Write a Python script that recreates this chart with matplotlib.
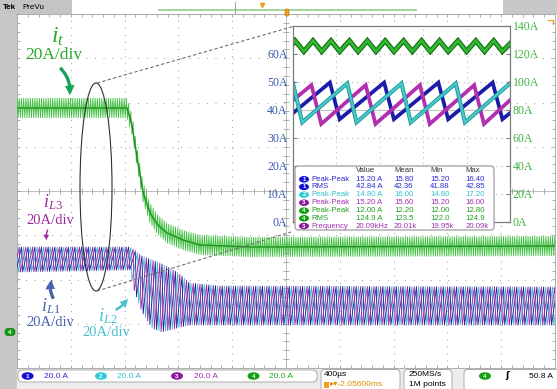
import numpy as np
import matplotlib
matplotlib.use("Agg")
import matplotlib.pyplot as plt
from matplotlib.patches import Ellipse, FancyBboxPatch, FancyArrowPatch, Rectangle

plt.rcParams["mathtext.fontset"] = "custom"
plt.rcParams["mathtext.it"] = "Liberation Serif:italic"
plt.rcParams["mathtext.rm"] = "Liberation Serif"

W, H = 557, 389
SERIF = "Liberation Serif"
SANS = ["Liberation Sans", "DejaVu Sans"]

# ---- main screen, in divisions (x 0..10, y -4..4) ----
f_sw = 20.09      # kHz (measurement table)
t_div = 400.0     # us/div
# total current iT (ch4) centre line
it_x = [0, 2.045, 2.138, 2.23, 2.342, 2.472, 2.62, 2.788, 3.086, 3.40, 4.33, 10.0]
it_y = [1.876, 1.876, 1.49, 0.768, -0.023, -0.497, -0.768, -0.949, -1.107, -1.220, -1.266, -1.243]
it_half = 0.22
# phase currents iL1..iL3: ripple peaks / valleys envelope
ph_x = [0, 2.100, 2.175, 2.323, 2.509, 2.695, 2.974, 3.216, 3.773, 10.0]
ph_hi = [-1.266, -1.266, -1.333, -1.469, -1.559, -1.650, -1.831, -2.079, -2.147, -2.169]
ph_lo = [-1.831, -1.785, -2.237, -2.734, -3.096, -3.186, -3.096, -3.028, -3.028, -3.028]
ph_fall = 0.18    # fraction of period the current falls

# ---- zoom window (us, A) ----
cyan_t = [0, 8.5, 50, 58.5, 100, 108.5, 150, 158.5, 200]
cyan_a = [49.5, 35.6, 49.5, 35.6, 49.5, 35.6, 49.5, 35.6, 49.5]
mag_t = [0, 17, 26, 67, 76, 117, 126, 167, 176, 200]
mag_a = [43.5, 48.9, 35.0, 48.9, 35.0, 48.9, 35.0, 48.9, 35.0, 43.5]
blue_t = [0, 34, 43, 84, 93, 134, 143, 184, 193, 200]
blue_a = [38.9, 49.8, 36.7, 49.8, 36.7, 49.8, 36.7, 49.8, 36.7, 38.9]
tot_t = [0, 2, 10, 18.5, 26.5, 35, 43, 52, 60, 68.5, 76.5, 85, 93, 102, 110,
         118.5, 126.5, 135, 143, 152, 160, 168.5, 176.5, 185, 193, 200]
tot_a = [127.5, 129.5, 121.8, 129.5, 121.8, 129.5, 121.8, 129.5, 121.8, 129.5, 121.8,
         129.5, 121.8, 129.5, 121.8, 129.5, 121.8, 129.5, 121.8, 129.5, 121.8,
         129.5, 121.8, 129.5, 121.8, 127.4]
left_ticks = [0, 10, 20, 30, 40, 50, 60]
right_ticks = [0, 20, 40, 60, 80, 100, 120, 140]

# measurement table
tbl_head = ["Value", "Mean", "Min", "Max"]
tbl_ch = ["1", "1", "2", "3", "4", "4", "3"]
tbl_name = ["Peak-Peak", "RMS", "Peak-Peak", "Peak-Peak", "Peak-Peak", "RMS", "Frequency"]
tbl_value = ["15.20 A", "42.84 A", "14.80 A", "15.20 A", "12.00 A", "124.9 A", "20.09kHz"]
tbl_mean = ["15.80", "42.36", "16.00", "15.60", "12.20", "123.5", "20.01k"]
tbl_min = ["15.20", "41.88", "14.80", "15.20", "12.00", "122.0", "19.95k"]
tbl_max = ["16.40", "42.85", "17.20", "16.00", "12.80", "124.9", "20.09k"]

ch_text = {"1": "#2a2ad0", "2": "#30c0d0", "3": "#a030b0", "4": "#20a020"}
ch_badge = {"1": "#1010d8", "2": "#30ccd8", "3": "#8c1c9c", "4": "#10a010"}
c_blue, c_cyan, c_mag = "#1c1ca8", "#38b8c8", "#a020a0"

fig = plt.figure(figsize=(W / 100, H / 100), dpi=100)

# ---------------- main screen ----------------
ax = fig.add_axes([17 / W, 1 - 368 / H, 538 / W, 354 / H], zorder=1)
ax.set_xlim(0, 10)
ax.set_ylim(-4, 4)
ax.set_xticks([])
ax.set_yticks([])
for s in ax.spines.values():
    s.set_color("#a0a0a0")
    s.set_linewidth(0.6)
for gx in range(1, 10):
    if gx != 5:
        ax.plot([gx, gx], [-4, 4], ls=(0, (0.8, 5.57)), color="#9a9a9a", lw=0.8, zorder=1)
for gy in range(-3, 4):
    if gy != 0:
        ax.plot([0, 10], [gy, gy], ls=(0, (0.8, 6.95)), color="#9a9a9a", lw=0.8, zorder=1)
ax.axhline(0, color="#b4b4b4", lw=0.6, zorder=1)
ax.axvline(5, color="#b4b4b4", lw=0.6, zorder=1)
mx = np.arange(0, 10.01, 0.2)
my = np.arange(-4, 4.01, 0.2)
tk = dict(color="#a0a0a0", lw=0.6, zorder=1)
ax.vlines(mx, -0.07, 0.07, **tk)
ax.hlines(my, 4.94, 5.06, **tk)
ax.vlines(mx, 3.93, 4, **tk)
ax.vlines(mx, -4, -3.93, **tk)
ax.hlines(my, 0, 0.06, **tk)
ax.hlines(my, 9.94, 10, **tk)

cyc = f_sw * t_div / 1000.0  # switching periods per division


def phase_wave(shift):
    k = np.arange(-1, int(10 * cyc) + 2)
    tp = (k + shift) / cyc
    tv = tp + ph_fall / cyc
    x = np.ravel(np.column_stack([tp, tv]))
    y = np.ravel(np.column_stack([np.interp(tp, ph_x, ph_hi), np.interp(tv, ph_x, ph_lo)]))
    return x, y


for shift, col in [(0.0, c_cyan), (2 / 3, c_blue), (1 / 3, c_mag)]:
    px, py = phase_wave(shift)
    ax.plot(px, py, color=col, lw=0.6, zorder=3)

half = 1 / (3 * cyc) / 2
k = np.arange(0, int(10 / half) + 2)
gx = k * half
gy = np.interp(gx, it_x, it_y) + np.where(k % 2 == 0, it_half, -it_half)
ax.plot(gx, gy, color="#40c040", lw=0.6, zorder=4)
ax.plot(it_x, it_y, color="#1f901f", lw=1.0, zorder=5)

# ---------------- zoom window ----------------
ins = fig.add_axes([293 / W, 1 - 222 / H, 217 / W, 196 / H], zorder=3)
ins.set_xlim(0, 200)
ins.set_ylim(0, 70)
ins.set_facecolor("white")
ins.set_xticks([])
for vx in [40, 80, 120, 160]:
    ins.plot([vx, vx], [0, 70], ls=(0, (0.8, 4.0)), color="#a8a8a8", lw=0.8)
for hy in [10, 20, 30, 50, 60]:
    ins.plot([0, 200], [hy, hy], ls=(0, (0.8, 4.0)), color="#a8a8a8", lw=0.8)
ins.axhline(40, color="#c0c0c0", lw=0.8)
ins.plot(blue_t, blue_a, color=c_blue, lw=2.7, solid_joinstyle="miter")
ins.plot(mag_t, mag_a, color="#b030b0", lw=2.7, solid_joinstyle="miter")
ins.plot(cyan_t, cyan_a, color="#1a9a9a", lw=2.9, solid_joinstyle="miter")
ins.plot(cyan_t, cyan_a, color="#48c8c8", lw=1.6, solid_joinstyle="miter")
ins.set_yticks(left_ticks)
ins.set_yticklabels([f"{v}A" for v in left_ticks], family=SERIF)
ins.tick_params(axis="y", direction="in", length=3, color="#808080",
                labelsize=8.5, labelcolor="#3a58b0", pad=4)

ins2 = ins.twinx()
ins2.set_zorder(4)
ins2.patch.set_visible(False)
ins2.set_ylim(0, 140)
ins2.plot(tot_t, tot_a, color="#0e6e0e", lw=3.6, solid_joinstyle="miter")
ins2.plot(tot_t, tot_a, color="#34b834", lw=2.0, solid_joinstyle="miter")
ins2.set_yticks(right_ticks)
ins2.set_yticklabels([f"{v}A" for v in right_ticks], family=SERIF)
ins2.tick_params(axis="y", direction="in", length=3, color="#808080",
                 labelsize=8.5, labelcolor="#3cb43c", pad=2)
for a in (ins, ins2):
    for s in a.spines.values():
        s.set_color("#7a7a7a")
        s.set_linewidth(0.8)

# ---------------- overlay (pixel coordinates) ----------------
ov = fig.add_axes([0, 0, 1, 1], zorder=10)
ov.set_xlim(0, W)
ov.set_ylim(H, 0)
ov.axis("off")

# frame pieces of the scope display
ov.add_patch(Rectangle((0, 0), 16.5, H, color="#c8c8c8", lw=0))
ov.add_patch(Rectangle((0, 0), 72, 13.5, color="#c4c4c4", lw=0))
ov.add_patch(Rectangle((503, 0), 54, 13.5, color="#c8c8c8", lw=0))
ov.add_patch(Rectangle((16.5, 368.5), W - 16.5, 20.5, color="#ececec", lw=0))
ov.text(3, 7.5, "Tek", fontsize=5.8, family=SANS, weight="bold", va="center")
ov.text(22, 7.5, "PreVu", fontsize=5.8, family=SANS, va="center")
ov.add_patch(Rectangle((158, 8.5), 259, 2.5, color="#a8d8a0", lw=0))
ov.plot([235, 235], [2, 13], color="#909090", lw=0.6)
ov.plot([262], [4.5], marker="v", ms=3, color="#f0a020")
ov.add_patch(FancyBboxPatch((285, 9), 4, 7, boxstyle="round,pad=0,rounding_size=1.2",
                            fc="#f0a020", ec="#b07010", lw=0.4))
ov.plot([548, 553, 553], [20, 20, 24], color="#f0a020", lw=0.9)
ov.add_patch(FancyBboxPatch((5, 328.5), 10, 7, boxstyle="round,pad=0,rounding_size=3",
                            fc="#10a010", ec="#0a600a", lw=0.4))
ov.text(10, 332, "4", fontsize=4.5, color="white", weight="bold", family=SANS,
        ha="center", va="center")

# bottom status bar
for (x0, y0, x1, y1) in [(18, 370, 317, 382), (321, 369.5, 400, 392), (404, 369.5, 452, 392),
                         (464, 369.5, 560, 392)]:
    ov.add_patch(FancyBboxPatch((x0, y0), x1 - x0, y1 - y0, boxstyle="round,pad=0,rounding_size=4",
                                fc="white", ec="#a0a0a0", lw=0.6))
for bx, tx, ch in [(27.6, 44, "1"), (101, 117, "2"), (177, 194, "3"), (253.5, 269, "4")]:
    ov.add_patch(Ellipse((bx, 376), 12, 7.5, fc=ch_badge[ch], ec="none"))
    ov.text(bx, 376, ch, fontsize=4.5, color="white", weight="bold", family=SANS,
            ha="center", va="center")
    ov.text(tx, 376, "20.0 A", fontsize=6, color=ch_text[ch], family=SANS, va="center")
ov.text(324, 374, "400µs", fontsize=6, family=SANS, va="center")
ov.add_patch(Rectangle((323.5, 381.5), 5, 6, fc="#f0a020", ec="none"))
ov.text(330, 385, "▸▾-2.05600ms", fontsize=6, family=SANS, color="#e08a00", va="center")
ov.text(409, 374, "250MS/s", fontsize=6, family=SANS, va="center")
ov.text(409, 385, "1M points", fontsize=6, family=SANS, va="center")
ov.add_patch(Ellipse((485, 376), 12, 7.5, fc=ch_badge["4"], ec="none"))
ov.text(485, 376, "4", fontsize=4.5, color="white", weight="bold", family=SANS,
        ha="center", va="center")
ov.text(505, 376, "ʃ", fontsize=6.5, family="DejaVu Sans", weight="bold", va="center")
ov.text(529, 376, "50.8 A", fontsize=6, family=SANS, va="center")

# measurement table
ov.add_patch(FancyBboxPatch((295, 166), 199, 64, boxstyle="round,pad=0,rounding_size=3",
                            fc="white", ec="#909090", lw=0.8))
cols = [355.5, 394, 430, 465.5]
for cx, head in zip(cols, tbl_head):
    ov.text(cx, 170.5, head, fontsize=5.6, family=SANS, color="#303030", va="center")
row_y = [179.3, 186.9, 194.7, 202.7, 210.7, 218.3, 226]
for i, ry in enumerate(row_y):
    ch = tbl_ch[i]
    ov.add_patch(Ellipse((304, ry), 10, 6.5, fc=ch_badge[ch], ec="none"))
    ov.text(304, ry, ch, fontsize=4.2, color="white", weight="bold", family=SANS,
            ha="center", va="center")
    ov.text(311, ry, tbl_name[i], fontsize=5.6, color=ch_text[ch], family=SANS, va="center")
    for cx, val in zip(cols, [tbl_value[i], tbl_mean[i], tbl_min[i], tbl_max[i]]):
        ov.text(cx, ry, val, fontsize=5.6, color=ch_text[ch], family=SANS, va="center")

# zoom marker: ellipse and dashed leaders
ov.add_patch(Ellipse((96, 187), 32, 208, fill=False, ec="#303030", lw=0.8))
ov.plot([97, 293], [83, 26.5], ls=(0, (3, 2)), color="#707070", lw=0.8)
ov.plot([97, 291], [291, 232], ls=(0, (3, 2)), color="#707070", lw=0.8)

# channel annotations
green, mag, blue, cyan = "#28a828", "#9b2a9b", "#4a62b0", "#48c0d0"
ov.text(58, 36, r"$i_t$", fontsize=17, color=green, ha="center", va="center")
ov.text(54, 55, "20A/div", fontsize=12.5, family=SERIF, color=green, ha="center", va="center")
ov.text(53, 202, r"$i_{L3}$", fontsize=13, color=mag, ha="center", va="center")
ov.text(50, 220, "20A/div", fontsize=10.5, family=SERIF, color=mag, ha="center", va="center")
ov.text(51, 306, r"$i_{L1}$", fontsize=13, color=blue, ha="center", va="center")
ov.text(50, 322.5, "20A/div", fontsize=10.5, family=SERIF, color=blue, ha="center", va="center")
ov.text(108, 316, r"$i_{L2}$", fontsize=13, color=cyan, ha="center", va="center")
ov.text(106, 333, "20A/div", fontsize=10.5, family=SERIF, color=cyan, ha="center", va="center")

arrows = [((58, 66), (69, 98), "#1aa05a", -0.3, 7, 7, 2.4),
          ((49, 227), (47, 243), mag, 0.2, 4, 4, 1.0),
          ((55, 301), (53, 277), blue, -0.3, 7, 7, 2.4),
          ((113, 311), (129, 296), cyan, 0.2, 6, 6, 1.8)]
for a0, a1, col, rad, hl, hw, tw in arrows:
    ov.add_patch(FancyArrowPatch(a0, a1, connectionstyle=f"arc3,rad={rad}",
                                 arrowstyle=f"simple,head_length={hl},head_width={hw},tail_width={tw}",
                                 color=col, lw=0, mutation_scale=1))

fig.savefig("out.png", dpi=100)
